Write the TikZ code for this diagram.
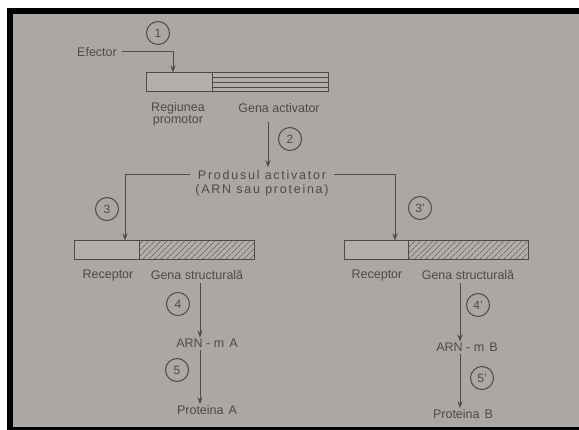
\documentclass[tikz,border=0pt]{standalone}
\usepackage{fontspec}
\setmainfont{Liberation Sans}
\newfontfamily\spacedfont[LetterSpace=14]{Liberation Sans}
\usetikzlibrary{arrows.meta,patterns.meta,calc}
\definecolor{paper}{HTML}{ABA7A4}
\definecolor{ink}{HTML}{4E4A49}
\definecolor{boxfill}{HTML}{B2AEAB}
\begin{document}
\begin{tikzpicture}[x=1pt,y=-1pt,
  lbl/.style={text=ink, font=\fontsize{12.5}{12}\selectfont, inner sep=1pt},
  num/.style={circle, draw=ink, line width=1pt, minimum size=23pt, inner sep=0pt,
              text=ink, font=\fontsize{12}{12}\selectfont},
  seg/.style={draw=ink, line width=1pt, minimum height=19pt, inner sep=0pt, fill=boxfill},
  hatched/.style={seg, postaction={pattern={Lines[angle=45,distance=4pt,line width=0.5pt]},
                  pattern color=ink}},
  arr/.style={draw=ink, line width=1pt, -{Stealth[length=7pt,width=5pt]}},
  wire/.style={draw=ink, line width=1pt}]

% frame and page
\fill[white] (0,0) rectangle (579,430);
\useasboundingbox (0,0) rectangle (579,430);
\fill[black] (7,8) rectangle (579,430);
\fill[paper] (13,14) rectangle (579,427);

% activator gene
\node[lbl] (efector) at (97,52) {Efector};
\node[seg, minimum width=66pt] (promo) at (179,82.5) {};
\node[seg, minimum width=116pt] (genact) at (270,82.5) {};
\foreach \dy in {-5,0,5}
  \draw[ink, line width=0.5pt] ([yshift=\dy pt]genact.west) -- ([yshift=\dy pt]genact.east);
\node[lbl, align=center] (lblpromo) at (178,114) {Regiunea\\promotor};
\node[lbl] (lblga) at (279,108) {Gena activator};

% activator product
\node[lbl, font=\spacedfont\fontsize{12.5}{12}\selectfont, inner xsep=8pt] (prod1) at (262,175) {Produsul activator};
\node[lbl, font=\spacedfont\fontsize{12.5}{12}\selectfont] (prod2) at (262,190) {(ARN sau proteina)};

% structural genes
\node[seg, minimum width=65pt] (recL) at (106.5,250.5) {};
\node[hatched, minimum width=115pt] (genL) at (196.5,250.5) {};
\node[seg, minimum width=64pt] (recR) at (376,250.5) {};
\node[hatched, minimum width=120pt] (genR) at (468,250.5) {};

\node[lbl] (lblrecL) at (108,275) {Receptor};
\node[lbl] (lblgenL) at (197,275) {Gena structurală};
\node[lbl] (lblrecR) at (377,275) {Receptor};
\node[lbl] (lblgenR) at (468,275) {Gena structurală};

\node[lbl] (arnA) at (207,343) {ARN - m\hspace{5pt}A};
\node[lbl] (protA) at (207,410) {Proteina\hspace{5pt}A};
\node[lbl] (arnB) at (467,347) {ARN - m\hspace{5pt}B};
\node[lbl] (protB) at (463,414) {Proteina\hspace{5pt}B};

% step numbers
\node[num] (n1) at (158,33) {1};
\node[num] (n2) at (290,139) {2};
\node[num] (n3) at (107,209) {3};
\node[num] (n3b) at (420,208) {3'};
\node[num] (n4) at (178,304) {4};
\node[num] (n4b) at (478,305) {4'};
\node[num] (n5) at (177,370) {5};
\node[num] (n5b) at (482,378) {5'};

% connectors
\draw[arr, shorten <=4pt] (efector.east) -| ([xshift=-6pt]promo.north);
\draw[arr, shorten <=8pt, shorten >=2pt] ([xshift=-11pt]lblga.south) -- ([xshift=-11pt]lblga.south |- prod1.north);
\draw[arr] (prod1.west) -| ([xshift=18.5pt]recL.north);
\draw[arr] (prod1.east) -| ([xshift=19pt]recR.north);
\draw[arr, shorten <=2pt] ([xshift=3pt]lblgenL.south) -- ([xshift=3pt]lblgenL.south |- arnA.north);
\draw[arr, shorten <=2pt] ([xshift=-7pt]arnA.south) -- ([xshift=-7pt]arnA.south |- protA.north);
\draw[arr, shorten <=2pt] ([xshift=-8pt]lblgenR.south) -- ([xshift=-8pt]lblgenR.south |- arnB.north);
\draw[arr, shorten <=2pt] ([xshift=-7pt]arnB.south) -- ([xshift=-7pt]arnB.south |- protB.north);
\end{tikzpicture}
\end{document}
